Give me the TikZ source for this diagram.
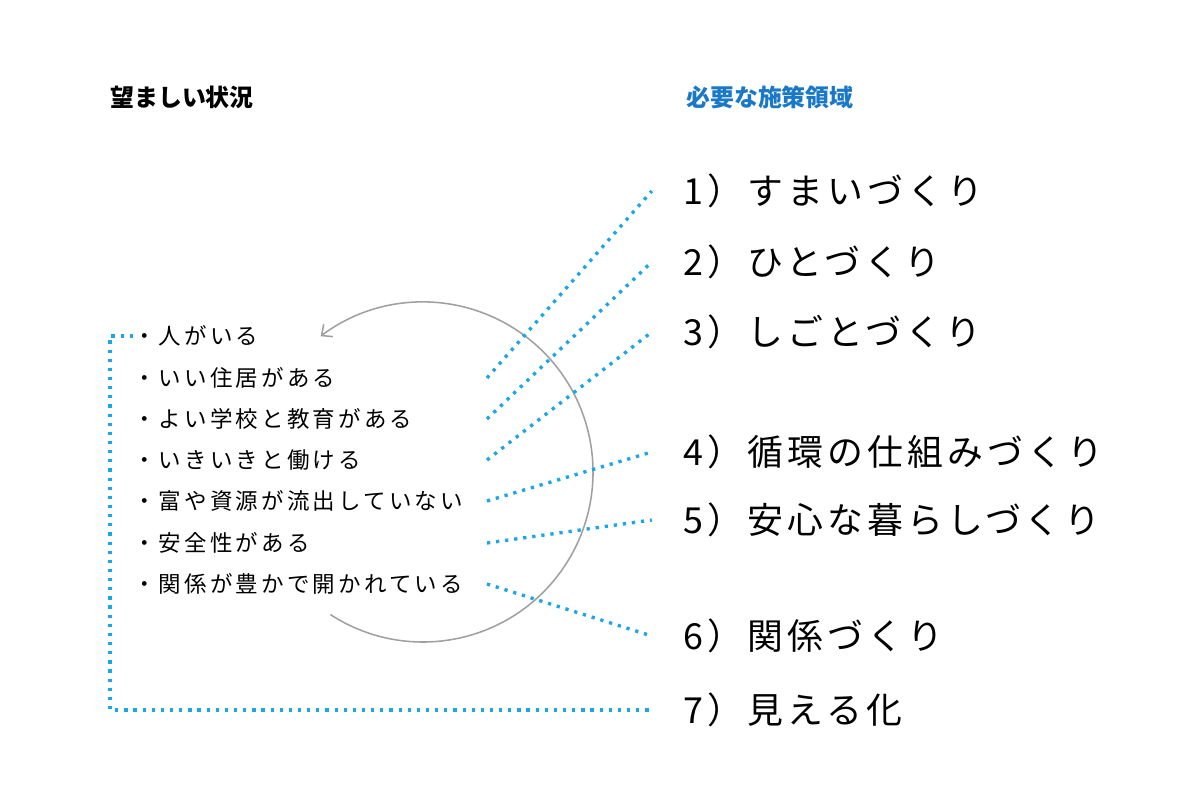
\documentclass[tikz,border=0pt]{standalone}
\usepackage{fontspec}
\setmainfont{Noto Sans CJK JP}
\newfontfamily\itemfont{Noto Sans CJK JP}[LetterSpace=14]
\newfontfamily\areafont{Noto Sans CJK JP}[LetterSpace=11.5]
\usetikzlibrary{arrows.meta}
\definecolor{headblue}{RGB}{26,120,200}
\definecolor{dotblue}{RGB}{26,166,232}
\definecolor{ringgray}{RGB}{160,160,160}

\begin{document}
\begin{tikzpicture}[x=0.025cm,y=0.025cm,
    heading/.style={anchor=west,inner sep=0,font=\bfseries\fontsize{17pt}{20pt}\selectfont},
    situation/.style={anchor=west,inner sep=0,font=\itemfont\fontsize{16pt}{18pt}\selectfont},
    area/.style={anchor=west,inner sep=0,font=\areafont\fontsize{25.5pt}{28pt}\selectfont},
    dotline/.style={dotblue,line width=2.4pt,dash pattern=on 2.3pt off 4.2pt}]
    \useasboundingbox (0,0) rectangle (1200,800);
    %headings
    \node[heading] (h1) at (110,703) {望ましい状況};
    \node[heading,text=headblue] (h2) at (686,703) {必要な施策領域};
    %situations
    \node[situation] (s1) at (133,464) {・人がいる};
    \node[situation] (s2) at (133,422) {・いい住居がある};
    \node[situation] (s3) at (133,381) {・よい学校と教育がある};
    \node[situation] (s4) at (133,340) {・いきいきと働ける};
    \node[situation] (s5) at (133,299) {・富や資源が流出していない};
    \node[situation] (s6) at (133,257) {・安全性がある};
    \node[situation] (s7) at (133,216) {・関係が豊かで開かれている};
    %areas
    \node[area] (d1) at (683,609) {1）すまいづくり};
    \node[area] (d2) at (683,538) {2）ひとづくり};
    \node[area] (d3) at (683,468) {3）しごとづくり};
    \node[area] (d4) at (683,348) {4）循環の仕組みづくり};
    \node[area] (d5) at (683,280) {5）安心な暮らしづくり};
    \node[area] (d6) at (683,164) {6）関係づくり};
    \node[area] (d7) at (683,90) {7）見える化};
    %cycle
    \draw[ringgray,line width=1.1pt,-{Straight Barb[length=6pt,width=11pt]}]
        (423,328) ++(-123:170) arc (-123:127:170);
    %links
    \coordinate (rim) at (487,0);
    \draw[dotline] (s2.west -| rim) -- ([xshift=-0.78cm]d1.west);
    \draw[dotline] (s3.west -| rim) -- ([xshift=-0.78cm]d2.west);
    \draw[dotline] (s4.west -| rim) -- ([xshift=-0.78cm]d3.west);
    \draw[dotline] (s5.west -| rim) -- ([xshift=-0.78cm]d4.west);
    \draw[dotline] (s6.west -| rim) -- ([xshift=-0.78cm]d5.west);
    \draw[dotline] (s7.west -| rim) -- ([xshift=-0.78cm]d6.west);
    \draw[dotline] (s1.west) -- ++(-23,0) |- ([xshift=-0.78cm]d7.west);
\end{tikzpicture}
\end{document}
